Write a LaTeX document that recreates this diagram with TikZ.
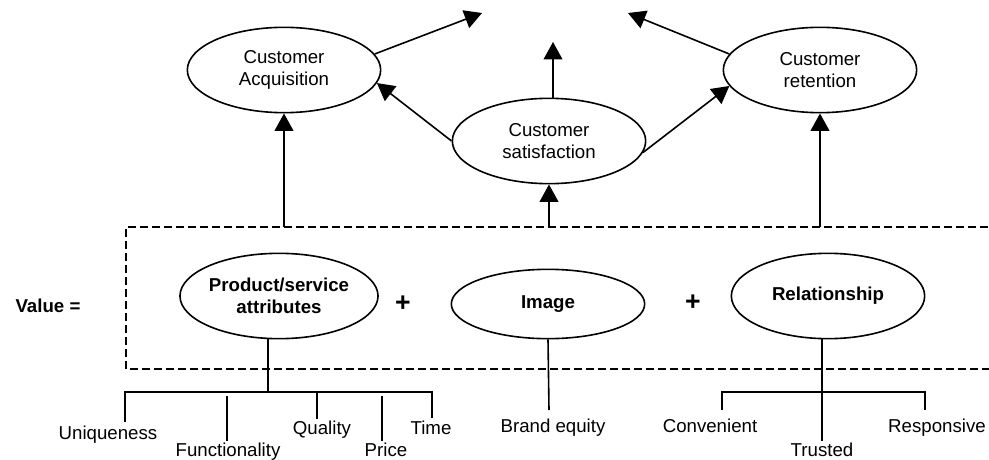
\documentclass[tikz,border=0pt]{standalone}
\usepackage{fontspec}
\setmainfont{Liberation Sans}
\usetikzlibrary{shapes,arrows.meta,positioning}

\begin{document}
\begin{tikzpicture}[x=0.75pt, y=-0.75pt, line width=1.2pt,
    font=\fontsize{14}{16.5}\selectfont,
    oval/.style={ellipse, draw, align=center, inner sep=0pt, minimum width=145pt, minimum height=64pt},
    valueoval/.style={oval, font=\fontsize{14}{16.5}\selectfont\bfseries},
    leaf/.style={inner sep=1pt, anchor=north},
    arrow/.style={-{Triangle[length=13pt, width=14pt]}}]

    \useasboundingbox (0,0) rectangle (989,460);

    % customer outcomes
    \node[oval] (acq) at (284,70) {Customer\\Acquisition};
    \node[oval] (sat) at (549,141) {Customer\\satisfaction};
    \node[oval] (ret) at (820,70) {Customer\\retention};

    \coordinate (goalL) at (482,13);
    \coordinate (goalM) at (553,42);
    \coordinate (goalR) at (628,13);

    % value components
    \node[font=\fontsize{14}{16.5}\selectfont\bfseries] (val) at (48,306) {Value =};
    \node[valueoval] (prod) at (279,296) {Product/service\\attributes};
    \node[font=\fontsize{20}{24}\selectfont\bfseries] (plusA) at (403,304) {+};
    \node[valueoval, minimum height=52pt] (img) at (548,304) {Image};
    \node[font=\fontsize{20}{24}\selectfont\bfseries] (plusB) at (693,303) {+};
    \node[valueoval] (rel) at (828,296) {Relationship};

    % dashed frame, open to the right
    \draw[line width=1pt, dash pattern=on 6pt off 3pt] (1000,227) -| (126,369) -- (1000,369);
    \coordinate (inA) at (284,227);
    \coordinate (inS) at (549,227);
    \coordinate (inR) at (820,227);

    \draw[arrow] (acq.10) -- (goalL);
    \draw[arrow] (sat.north -| goalM) -- (goalM);
    \draw[arrow] (ret.170) -- (goalR);
    \draw[arrow] (sat.west) -- (acq.-8);
    \draw[arrow] (sat.-7) -- (ret.190);
    \draw[arrow] (inA) -- (acq);
    \draw[arrow] (inS) -- (sat);
    \draw[arrow] (inR) -- (ret);

    % attributes
    \node[leaf] (uniq) at (108,424) {Uniqueness};
    \node[leaf] (func) at (228,441) {Functionality};
    \node[leaf] (qual) at (322,419) {Quality};
    \node[leaf] (price) at (386,441) {Price};
    \node[leaf] (time) at (431,419) {Time};
    \node[leaf] (brand) at (553,417) {Brand equity};
    \node[leaf] (conv) at (710,417) {Convenient};
    \node[leaf] (trust) at (822,441) {Trusted};
    \node[leaf] (resp) at (937,417) {Responsive};

    \coordinate (pJ) at (268,392);
    \coordinate (pLend) at (125,422);
    \coordinate (pRend) at (432,418);
    \coordinate (pQ) at (317,392);
    \coordinate (fTop) at (227,396);
    \coordinate (prTop) at (382,396);
    \draw (prod.south -| pJ) -- (pJ);
    \draw (pLend) |- (pJ) -| (pRend);
    \draw (pQ) -- (pQ |- qual.north);
    \draw (fTop) -- (fTop |- func.north);
    \draw (prTop) -- (prTop |- price.north);

    \coordinate (bEnd) at (549,410);
    \draw (img.south) -- (bEnd);

    \coordinate (rJ) at (822,392);
    \coordinate (rLend) at (722,410);
    \coordinate (rRend) at (925,410);
    \draw (rel.south -| rJ) -- (rJ |- trust.north);
    \draw (rLend) |- (rJ) -| (rRend);

\end{tikzpicture}
\end{document}
